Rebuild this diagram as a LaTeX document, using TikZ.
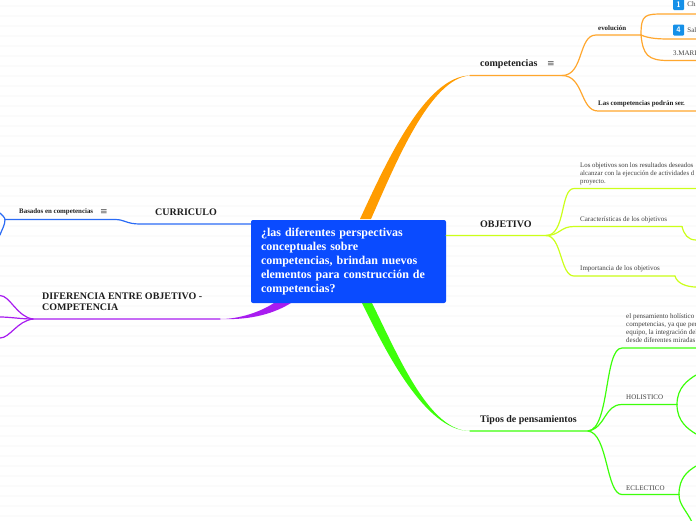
\documentclass[tikz,border=0pt]{standalone}
\usepackage{fontspec}
\setmainfont{Liberation Serif}
\newfontfamily\symfont{DejaVu Sans}
\usepackage{xcolor}
\usetikzlibrary{positioning}
\definecolor{mapBlue}{HTML}{0A4BFF}
\definecolor{mapLink}{HTML}{2A6BF5}
\definecolor{mapTag}{HTML}{1590E8}
\definecolor{mapOrange}{HTML}{FF9C00}
\definecolor{mapAmber}{HTML}{FFA72E}
\definecolor{mapLime}{HTML}{CCFF1A}
\definecolor{mapGreen}{HTML}{3DFF0A}
\definecolor{mapPurple}{HTML}{A81CF0}
\definecolor{mapInk}{HTML}{1E1E1E}
\definecolor{mapStripe}{HTML}{FBFBFB}
\tikzset{
  map root/.style={fill=mapBlue, rounded corners=2pt, minimum width=195pt, minimum height=83pt,
    text=white, inner sep=0pt, font=\fontsize{12}{14}\selectfont\bfseries, align=left, text width=175pt},
  map main/.style={anchor=west, inner sep=0pt, text=mapInk, font=\fontsize{10}{11.5}\selectfont\bfseries, align=left},
  map sub/.style={anchor=west, inner sep=0pt, text=mapInk, font=\fontsize{6.9}{8}\selectfont\bfseries, align=left},
  map leaf/.style={anchor=west, inner sep=0pt, text=mapInk!85, font=\fontsize{7}{8}\selectfont, align=left},
  map note/.style={inner sep=0pt, text=mapInk!80, font=\fontsize{9}{9}\selectfont\symfont},
  map icon/.style={fill=#1, rounded corners=1pt, minimum size=11pt, inner sep=0pt, text=white,
    font=\fontsize{8}{8}\selectfont\bfseries\sffamily},
  map link/.style={draw=#1, line width=1.2pt, line cap=round},
}
\begin{document}
\begin{tikzpicture}[x=1pt,y=-1pt]
\useasboundingbox (0,0) rectangle (696,520);
\clip (0,0) rectangle (696,520);
\fill[white] (0,0) rectangle (696,520);
\foreach \k in {0,...,51}
  \fill[mapStripe] (0,5+10*\k) rectangle (696,7+10*\k);

% junctions and free ends
\coordinate (compStart) at (470,75.5);
\coordinate (compFork) at (562,75.5);
\coordinate (evolStart) at (596,35);
\coordinate (evolFork) at (641,35);
\coordinate (serStart) at (598,111);
\coordinate (serEnd) at (696,111);
\coordinate (evolA) at (696,14);
\coordinate (evolB) at (696,39);
\coordinate (evolC) at (696,60.5);
\coordinate (objFork) at (546,235.5);
\coordinate (objA) at (696,188.5);
\coordinate (objB) at (682,226.5);
\coordinate (objBend) at (696,240);
\coordinate (objC) at (675,276);
\coordinate (objCend) at (696,287);
\coordinate (tipStart) at (470,431);
\coordinate (tipFork) at (588,431);
\coordinate (tipA) at (696,348);
\coordinate (holFork) at (677,404.5);
\coordinate (ecFork) at (679,494.5);
\coordinate (holA) at (696,375);
\coordinate (holB) at (696,434);
\coordinate (ecA) at (696,466);
\coordinate (ecB) at (692,522);
\coordinate (curStart) at (140,224);
\coordinate (curFork) at (5,219.5);
\coordinate (curA) at (0,213);
\coordinate (curB) at (0,235);
\coordinate (difStart) at (220,319);
\coordinate (difFork) at (33,319);
\coordinate (difA) at (0,295.5);
\coordinate (difB) at (0,317);
\coordinate (difC) at (0,338);

% tapered main branches
\fill[mapOrange] (360,219) .. controls (385,165) and (425,76) .. (compStart)
  .. controls (430,78) and (395,165) .. (371,219) -- cycle;
\fill[mapGreen] (362,303) .. controls (385,350) and (425,431) .. (tipStart)
  .. controls (430,431) and (400,360) .. (372,303) -- cycle;
\fill[mapPurple] (274,303) .. controls (260,312) and (240,319) .. (difStart)
  .. controls (245,320) and (270,316) .. (291,303) -- cycle;

% root
\node[map root] (root) at (348.5,261.5) {¿las diferentes perspectivas\\conceptuales sobre\\competencias, brindan nuevos\\elementos para construcción de\\competencias?};

% main topics
\node[map main] (comp) at (480,64.5) {competencias};
\node[map note] (compNote) at (551,64) {≡};
\node[map main] (obj) at (480,224) {OBJETIVO};
\node[map main] (tip) at (480,420) {Tipos de pensamientos};
\node[map main] (cur) at (155,212.5) {CURRICULO};
\node[map main] (dif) at (42,301.5) {DIFERENCIA ENTRE OBJETIVO -\\COMPETENCIA};

% competencias
\node[map sub] (evol) at (598,28) {evolución};
\node[map sub] (ser) at (598,104) {Las competencias podrán ser.};
\node[map icon=mapTag] (iconA) at (678.5,4.5) {1};
\node[map leaf, right=3pt of iconA] (chLeaf) {Ch};
\node[map icon=mapTag] (iconB) at (678.5,30) {4};
\node[map leaf, right=3pt of iconB] (salLeaf) {Sal};
\node[map leaf] (mari) at (673,53.5) {3.MARI};

\draw[map link=mapAmber] (compStart) -- (compFork) .. controls +(22,0) and +(-18,0) .. (evolStart) -- (evolFork);
\draw[map link=mapAmber] (compFork) .. controls +(22,0) and +(-18,0) .. (serStart) -- (serEnd);
\draw[map link=mapAmber] (evolFork) .. controls +(0,-21) and +(-20,0) .. (665,14) -- (evolA);
\draw[map link=mapAmber] (evolFork) .. controls +(8,3.5) and +(-12,0) .. (670,39) -- (evolB);
\draw[map link=mapAmber] (evolFork) .. controls +(2,20) and +(-20,0) .. (668,60.5) -- (evolC);

% objetivo
\node[map leaf, font=\fontsize{6.8}{8}\selectfont] (objText) at (580,174) {Los objetivos son los resultados deseados\\alcanzar con la ejecución de actividades d\\proyecto.};
\node[map leaf] (objCar) at (580,219.5) {Características de los objetivos};
\node[map leaf] (objImp) at (580,269) {Importancia de los objetivos};

\draw[map link=mapLime] (root.east |- objFork) -- (objFork) .. controls +(20,0) and +(-14,0) .. (574,188.5) -- (objA);
\draw[map link=mapLime] (objFork) .. controls +(14,0) and +(-14,0) .. (574,226.5) -- (objB);
\draw[map link=mapLime] (objB) .. controls +(2,8) and +(-8,0) .. (objBend);
\draw[map link=mapLime] (objFork) .. controls +(16,0) and +(-14,0) .. (574,276) -- (objC);
\draw[map link=mapLime] (objC) .. controls +(2,8) and +(-8,0) .. (objCend);

% tipos
\node[map leaf] (tipText) at (626,328) {el pensamiento holístico\\competencias, ya que per\\equipo, la integración del\\desde diferentes miradas};
\node[map leaf] (hol) at (626,397) {HOLISTICO};
\node[map leaf] (ec) at (626,488) {ECLECTICO};

\draw[map link=mapGreen] (tipStart) -- (tipFork) .. controls +(22,-2) and +(-18,0) .. (622,348) -- (tipA);
\draw[map link=mapGreen] (tipFork) .. controls +(18,-3) and +(-18,0) .. (622,404.5) -- (holFork);
\draw[map link=mapGreen] (tipFork) .. controls +(20,2) and +(-16,0) .. (622,494.5) -- (ecFork);
\draw[map link=mapGreen] (holFork) .. controls +(0,-17) and +(-8,5) .. (holA);
\draw[map link=mapGreen] (holFork) .. controls +(0,17) and +(-8,-5) .. (holB);
\draw[map link=mapGreen] (ecFork) .. controls +(0,-17) and +(-8,5) .. (ecA);
\draw[map link=mapGreen] (ecFork) .. controls +(0,10) and +(-6,-12) .. (ecB);

% curriculo
\node[map sub] (bas) at (19,212) {Basados en competencias};
\node[map note] (basNote) at (104,212) {≡};

\draw[map link=mapLink] (root.west |- curStart) -- (curStart) .. controls +(-14,0) and +(10,0) .. (115,219.5) -- (curFork);
\draw[map link=mapLink] (curFork) .. controls +(0,-2) and +(2,2) .. (curA);
\draw[map link=mapLink] (curFork) .. controls +(0,6) and +(2,-6) .. (curB);

% diferencia
\draw[map link=mapPurple] (difStart) -- (difFork) .. controls +(-16,-2) and +(10,0) .. (difA);
\draw[map link=mapPurple] (difFork) .. controls +(-12,0) and +(10,0) .. (difB);
\draw[map link=mapPurple] (difFork) .. controls +(-16,2) and +(10,0) .. (difC);
\end{tikzpicture}
\end{document}
